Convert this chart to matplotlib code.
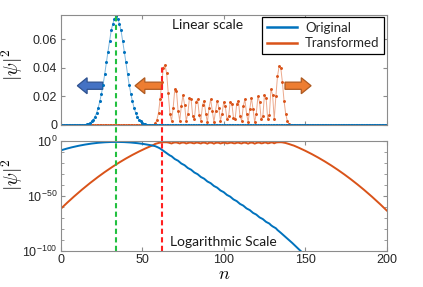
import numpy as np
import matplotlib
matplotlib.use("Agg")
import matplotlib.pyplot as plt
from matplotlib.patches import FancyArrow
from matplotlib.ticker import FixedLocator, NullFormatter

plt.rcParams['font.family'] = ['Liberation Sans', 'DejaVu Sans']

# |psi|^2, n = 0..200
# Original: log10 values for every n
orig_log = [
    -8.80, -8.35, -7.92, -7.50, -7.10, -6.70, -6.33, -5.96, -5.61, -5.27,
    -4.94, -4.63, -4.33, -4.05, -3.78, -3.52, -3.27, -3.04, -2.82, -2.61,
    -2.42, -2.24, -2.08, -1.92, -1.78, -1.66, -1.55, -1.45, -1.36, -1.29,
    -1.23, -1.18, -1.15, -1.13, -1.12, -1.13, -1.15, -1.18, -1.23, -1.29,
    -1.36, -1.45, -1.55, -1.66, -1.78, -1.92, -2.08, -2.24, -2.42, -2.61,
    -2.82, -3.04, -3.27, -3.52, -3.78, -4.05, -4.33, -4.63, -5.0, -5.6,
    -6.3, -7.1, -8.1, -9.2, -10.3, -11.4, -12.4, -13.42, -14.14, -15.46,
    -16.68, -17.50, -18.22, -19.54, -20.76, -21.58, -22.30, -23.62, -24.84, -25.66,
    -26.38, -27.70, -28.92, -29.74, -30.46, -31.78, -33.00, -33.82, -34.54, -35.86,
    -37.08, -37.90, -38.62, -39.94, -41.16, -41.98, -42.70, -44.02, -45.24, -46.06,
    -46.78, -48.10, -49.32, -50.14, -50.86, -52.18, -53.40, -54.22, -54.94, -56.26,
    -57.48, -58.30, -59.02, -60.34, -61.56, -62.38, -63.10, -64.42, -65.64, -66.46,
    -67.18, -68.50, -69.72, -70.54, -71.26, -72.58, -73.80, -74.62, -75.34, -76.8,
    -77.9, -78.8, -79.6, -81.2, -82.4, -83.7, -85.0, -86.3, -87.6, -88.9,
    -90.2, -91.6, -92.9, -94.3, -95.7, -97.1, -98.5, -99.9, -101.4, -102.9,
    -104.4, -105.9, -107.5, -109.1, -110.7, -112.3, -113.9, -115.6, -117.3, -119.0,
    -120.7, -122.4, -124.2, -126.0, -127.8, -129.6, -131.4, -133.3, -135.2, -137.1,
    -139.0, -140.9, -142.9, -144.9, -146.9, -148.9, -150.9, -153.0, -155.1, -157.2,
    -159.3, -161.4, -163.6, -165.8, -168.0, -170.2, -172.4, -174.7, -177.0, -179.3,
    -181.6, -183.9, -186.3, -188.7, -191.1, -193.5, -195.9, -198.4, -200.9, -203.4,
    -205.9,
]

# Transformed: log10 tail n = 0..57, linear values n = 58..142, log10 tail n = 143..200
trans_left_log = [
    -62.00, -60.57, -59.16, -57.76, -56.37, -55.00, -53.65, -52.31, -50.98, -49.67,
    -48.37, -47.09, -45.82, -44.56, -43.33, -42.10, -40.89, -39.70, -38.51, -37.35,
    -36.20, -35.06, -33.94, -32.83, -31.74, -30.66, -29.59, -28.54, -27.51, -26.49,
    -25.48, -24.49, -23.51, -22.55, -21.60, -20.67, -19.75, -18.85, -17.96, -17.08,
    -16.22, -15.38, -14.55, -13.73, -12.93, -12.14, -11.37, -10.61, -9.87, -9.14,
    -8.43, -7.73, -7.04, -6.37, -5.71, -5.07, -4.45, -3.83,
]
trans_mid = [
    0.0012, 0.0035, 0.0085, 0.018, 0.030, 0.040, 0.042, 0.036, 0.022, 0.008,
    0.003, 0.012, 0.025, 0.024, 0.010, 0.003, 0.013, 0.021, 0.014, 0.003,
    0.008, 0.019, 0.018, 0.006, 0.004, 0.016, 0.018, 0.007, 0.003, 0.014,
    0.017, 0.008, 0.002, 0.012, 0.018, 0.010, 0.002, 0.010, 0.017, 0.012,
    0.003, 0.008, 0.016, 0.013, 0.004, 0.006, 0.016, 0.015, 0.005, 0.004,
    0.015, 0.017, 0.006, 0.003, 0.013, 0.018, 0.008, 0.002, 0.011, 0.019,
    0.011, 0.002, 0.008, 0.020, 0.016, 0.004, 0.006, 0.021, 0.019, 0.004,
    0.007, 0.025, 0.021, 0.004, 0.020, 0.034, 0.041, 0.040, 0.030, 0.017,
    0.008, 0.003, 0.001, 0.0003, 0.0001,
]
trans_right_log = [
    -4.45, -5.07, -5.71, -6.37, -7.04, -7.73, -8.43, -9.14, -9.87, -10.61,
    -11.37, -12.14, -12.93, -13.73, -14.55, -15.38, -16.22, -17.08, -17.96, -18.85,
    -19.75, -20.67, -21.60, -22.55, -23.51, -24.49, -25.48, -26.49, -27.51, -28.54,
    -29.59, -30.66, -31.74, -32.83, -33.94, -35.06, -36.20, -37.35, -38.51, -39.70,
    -40.89, -42.10, -43.33, -44.56, -45.82, -47.09, -48.37, -49.67, -50.98, -52.31,
    -53.65, -55.00, -56.37, -57.76, -59.16, -60.57, -62.00, -63.44,
]

n_green = 34   # vertical markers
n_red = 62

original = 10.0 ** np.array(orig_log)
transformed = np.concatenate([10.0 ** np.array(trans_left_log),
                              np.array(trans_mid),
                              10.0 ** np.array(trans_right_log)])
n = np.arange(len(original))

c_orig = '#0072BD'
c_trans = '#D95319'
spine_c = '#8c8c8c'

fig = plt.figure(figsize=(4.23, 2.87), dpi=100)
ax1 = fig.add_axes([0.1435, 0.5645, 0.7707, 0.3843])
ax2 = fig.add_axes([0.1435, 0.1265, 0.7707, 0.3833])

# ---- linear scale ----
ax1.plot(n, transformed, '-', color=c_trans, lw=0.7, alpha=0.5)
ax1.plot(n, transformed, '.', color=c_trans, ms=2.2)
ax1.plot(n, original, '-', color=c_orig, lw=0.7, alpha=0.5)
ax1.plot(n, original, '.', color=c_orig, ms=2.4)
ax1.set_xlim(0, 200)
ax1.set_ylim(0, 0.077)
ax1.set_yticks([0, 0.02, 0.04, 0.06])
ax1.set_yticklabels(['0', '0.02', '0.04', '0.06'])
ax1.set_xticks([0, 50, 100, 150, 200])
ax1.set_xticklabels([])

ax1.axvline(n_green, ymin=-0.145, ymax=1, color='#22c040', lw=1.5,
            ls=(0, (2.5, 1.6)), clip_on=False)
ax1.axvline(n_red, ymin=-0.145, ymax=0.545, color='#ff2020', lw=1.5,
            ls=(0, (2.5, 1.6)), clip_on=False)

lines = [plt.Line2D([], [], color=c_orig, lw=1.8),
         plt.Line2D([], [], color=c_trans, lw=1.8)]
leg = ax1.legend(lines, ['Original', 'Transformed'], loc='upper right',
                 bbox_to_anchor=(0.992, 0.976), borderaxespad=0,
                 fancybox=False, edgecolor='black', framealpha=1,
                 prop={'family': 'Lato', 'size': 9.5}, handlelength=2.3,
                 handletextpad=0.6, borderpad=0.35, labelspacing=0.25)
leg.get_frame().set_linewidth(0.9)
for t in leg.get_texts():
    t.set_color('#262626')

ax1.text(0.45, 0.907, 'Linear scale', transform=ax1.transAxes, ha='center',
         va='center', family='Lato', fontsize=10, color='#1a1a1a')

# arrows (axes fraction)
arrow_kw = dict(transform=ax1.transAxes, width=0.065, head_width=0.145,
                head_length=0.03, length_includes_head=True, lw=0.9)
ax1.add_patch(FancyArrow(0.129, 0.356, -0.078, 0, fc='#4472C4', ec='#2F528F',
                         **arrow_kw))
ax1.add_patch(FancyArrow(0.312, 0.356, -0.084, 0, fc='#ED7D31', ec='#AE5A21',
                         **arrow_kw))
ax1.add_patch(FancyArrow(0.688, 0.356, 0.080, 0, fc='#ED7D31', ec='#AE5A21',
                         **arrow_kw))

# ---- log scale ----
ax2.plot(n, transformed, '-', color=c_trans, lw=1.4)
ax2.plot(n, original, '-', color=c_orig, lw=1.4)
ax2.set_yscale('log')
ax2.set_xlim(0, 200)
ax2.set_ylim(1e-100, 1e0)
ax2.yaxis.set_major_locator(FixedLocator([1e-100, 1e-50, 1e0]))
ax2.yaxis.set_minor_locator(FixedLocator([10.0 ** -k for k in range(10, 100, 10) if k != 50]))
ax2.yaxis.set_minor_formatter(NullFormatter())
ax2.set_xticks([0, 50, 100, 150, 200])

ax2.axvline(n_green, color='#22c040', lw=1.5, ls=(0, (2.5, 1.6)))
ax2.axvline(n_red, color='#ff2020', lw=1.5, ls=(0, (2.5, 1.6)))

ax2.text(0.4994, 0.082, 'Logarithmic Scale', transform=ax2.transAxes,
         ha='center', va='center', family='Lato', fontsize=10, color='#1a1a1a')

ax2.set_xlabel(r'$n$', math_fontfamily='cm', fontsize=13, labelpad=0)

for ax, ly in ((ax1, 0.544), (ax2, 0.688)):
    ax.set_ylabel(r'$|\psi|^2$', math_fontfamily='cm', fontsize=14)
    ax.yaxis.set_label_coords(-0.11, ly)
    for s in ax.spines.values():
        s.set_color(spine_c)
        s.set_linewidth(0.8)
    ax.tick_params(which='both', direction='in', top=True, right=True,
                   color=spine_c, labelsize=9, labelcolor='#262626', pad=2.5)
    ax.tick_params(which='major', length=3)
    ax.tick_params(which='minor', length=2)

fig.savefig('out.png', dpi=100)
